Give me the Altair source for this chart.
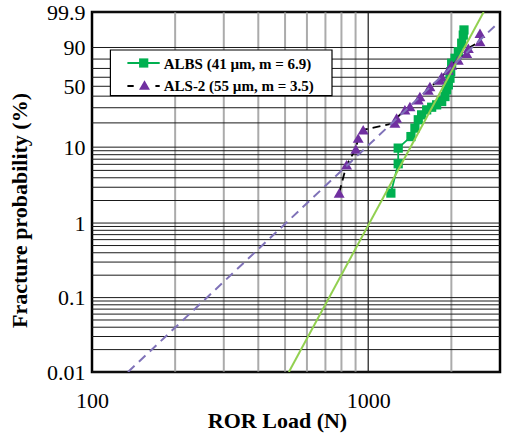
import math
import altair as alt
import pandas as pd

# ---- data ----
albs_load = [1208, 1284, 1284, 1428, 1476, 1518, 1561, 1628, 1697, 1769, 1845,
             1896, 1923, 1950, 1977, 1989, 2005, 2062, 2119, 2180, 2209, 2222]
albs_prob = [2.51, 6.1, 9.72, 13.6, 17.3, 21.8, 24.9, 28.4, 30.4, 32.3, 35.1,
             39.6, 46.2, 51.5, 58.9, 66.4, 75.7, 80.8, 86.8, 92.8, 96.6, 98.1]
als2_load = [785, 835, 902, 920, 959, 1249, 1267, 1358, 1416, 1518, 1539,
             1650, 1673, 1819, 1845, 1950, 2005, 2119, 2273, 2304, 2539, 2539]
als2_prob = [2.51, 5.92, 9.44, 13.0, 16.5, 19.9, 22.8, 28.4, 30.9, 36.6, 39.6,
             46.2, 49.7, 57.0, 60.7, 68.3, 73.9, 79.1, 85.4, 89.5, 93.7, 97.2]

albs_fit_load = [516, 2618]
albs_fit_prob = [0.01, 99.9]
als2_fit_load = [135, 2960]
als2_fit_prob = [0.01, 99.3]

y_tick_labels = [0.01, 0.1, 1, 10, 50, 90, 99.9]
y_grid = [0.01, 0.02, 0.03, 0.04, 0.05, 0.06, 0.07, 0.08, 0.09,
          0.1, 0.2, 0.3, 0.4, 0.5, 0.6, 0.7, 0.8, 0.9,
          1, 2, 3, 4, 5, 6, 7, 8, 9,
          10, 20, 30, 40, 50, 60, 70, 80, 90, 99.9]
x_grid_grey = [200, 300, 400, 500, 600, 700, 800, 900, 2000]
x_grid_black = [1000]
x_tick_labels = [100, 1000]

legend_labels = ["ALBS (41 µm, m = 6.9)", "ALS-2 (55 µm, m = 3.5)"]


def wb(p):
    """Weibull probability-paper coordinate."""
    return math.log(-math.log(1 - p / 100.0))


FONT = "Liberation Serif"
xscale = alt.Scale(type="log", domain=[100, 3000], nice=False)
yscale = alt.Scale(domain=[wb(0.01), wb(99.9)], nice=False, zero=False)

xaxis = alt.Axis(values=x_tick_labels, format="d", title="ROR Load (N)",
                 grid=False, ticks=False, tickSize=0, domain=False,
                 labelFont=FONT, labelFontSize=22, labelColor="black",
                 labelPadding=35, labelBaseline="alphabetic", labelFlush=False,
                 labelOverlap=False, titleFont=FONT, titleFontSize=22,
                 titleFontWeight="bold", titleColor="black", titleX=185,
                 titleY=55, titleBaseline="alphabetic", titleAlign="center")
yaxis = alt.Axis(values=[wb(v) for v in y_tick_labels],
                 labelExpr="format(100*(1-exp(-exp(datum.value))), '.3~r')",
                 title="Fracture probability (%)", grid=False, ticks=False,
                 tickSize=0, domain=False, labelFont=FONT, labelFontSize=22,
                 labelColor="black", labelPadding=7, labelBaseline="middle",
                 labelFlush=False, labelOverlap=False, titleFont=FONT,
                 titleFontSize=22, titleFontWeight="bold", titleColor="black",
                 titleX=-73, titleY=198, titleBaseline="middle",
                 titleAlign="center")


def X(field):
    return alt.X(f"{field}:Q", scale=xscale, axis=xaxis)


def Y(field):
    return alt.Y(f"{field}:Q", scale=yscale, axis=yaxis)


def series(loads, probs):
    return pd.DataFrame({"load": loads, "t": [wb(p) for p in probs],
                         "i": list(range(len(loads)))})


albs = series(albs_load, albs_prob)
als2 = series(als2_load, als2_prob)
albs_fit = series(albs_fit_load, albs_fit_prob)
als2_fit = series(als2_fit_load, als2_fit_prob)

vgrid_grey = alt.Chart(pd.DataFrame({"load": x_grid_grey})).mark_rule(
    color="#ababab", strokeWidth=2).encode(x=X("load"))
vgrid_black = alt.Chart(pd.DataFrame({"load": x_grid_black})).mark_rule(
    color="#1a1a1a", strokeWidth=1.2).encode(x=X("load"))
hgrid = alt.Chart(pd.DataFrame({"t": [wb(v) for v in y_grid]})).mark_rule(
    color="#1a1a1a", strokeWidth=1).encode(y=Y("t"))

albs_line = alt.Chart(albs).mark_line(color="#00B050", strokeWidth=1.8).encode(
    x=X("load"), y=Y("t"), order="i:Q")
albs_pts = alt.Chart(albs).mark_point(shape="square", filled=True, opacity=1,
                                      color="#00B050", size=85).encode(
    x=X("load"), y=Y("t"))
als2_line = alt.Chart(als2).mark_line(color="black", strokeWidth=1.8,
                                      strokeDash=[8, 5]).encode(
    x=X("load"), y=Y("t"), order="i:Q")
als2_pts = alt.Chart(als2).mark_point(shape="triangle-up", filled=True,
                                      opacity=1, color="#7030A0",
                                      size=120).encode(x=X("load"), y=Y("t"))

albs_fit_line = alt.Chart(albs_fit).mark_line(color="#92D050", strokeWidth=2,
                                              clip=True).encode(
    x=X("load"), y=Y("t"), order="i:Q")
als2_fit_line = alt.Chart(als2_fit).mark_line(color="#7F72B8", strokeWidth=2,
                                              strokeDash=[9, 6],
                                              clip=True).encode(
    x=X("load"), y=Y("t"), order="i:Q")

# ---- legend (drawn by hand) ----
one = pd.DataFrame({"a": [0]})
leg_box = alt.Chart(one).mark_rect(fill="white", stroke="black",
                                   strokeWidth=1.2).encode(
    x=alt.value(18.4), x2=alt.value(240), y=alt.value(38), y2=alt.value(83.7))
leg_l1 = alt.Chart(one).mark_rule(color="#00B050", strokeWidth=2).encode(
    x=alt.value(35.4), x2=alt.value(67.7), y=alt.value(51))
leg_p1 = alt.Chart(one).mark_point(shape="square", filled=True, opacity=1,
                                   color="#00B050", size=85).encode(
    x=alt.value(51.7), y=alt.value(51))
leg_l2a = alt.Chart(one).mark_rule(color="black", strokeWidth=2).encode(
    x=alt.value(35.4), x2=alt.value(41.7), y=alt.value(74))
leg_l2b = alt.Chart(one).mark_rule(color="black", strokeWidth=2).encode(
    x=alt.value(63.4), x2=alt.value(67.7), y=alt.value(74))
leg_p2 = alt.Chart(one).mark_point(shape="triangle-up", filled=True, opacity=1,
                                   color="#7030A0", size=120).encode(
    x=alt.value(52.5), y=alt.value(73))
leg_t1 = alt.Chart(one).mark_text(align="left", baseline="middle", font=FONT,
                                  fontWeight="bold", fontSize=15,
                                  color="black").encode(
    x=alt.value(71.7), y=alt.value(51.5), text=alt.value(legend_labels[0]))
leg_t2 = alt.Chart(one).mark_text(align="left", baseline="middle", font=FONT,
                                  fontWeight="bold", fontSize=15,
                                  color="black").encode(
    x=alt.value(71.7), y=alt.value(74), text=alt.value(legend_labels[1]))

chart = alt.layer(
    vgrid_grey, vgrid_black, hgrid,
    albs_line, albs_pts, als2_line, als2_pts,
    albs_fit_line, als2_fit_line,
    leg_box, leg_l1, leg_p1, leg_l2a, leg_l2b, leg_p2, leg_t1, leg_t2,
).properties(
    width=408, height=360,
    autosize=alt.AutoSizeParams(type="none"),
    padding={"left": 92, "top": 12, "right": 31, "bottom": 61},
    background="white",
).configure_view(stroke="black", strokeWidth=2.5)

chart.save("out.html", embed_options={"renderer": "svg", "actions": False})
